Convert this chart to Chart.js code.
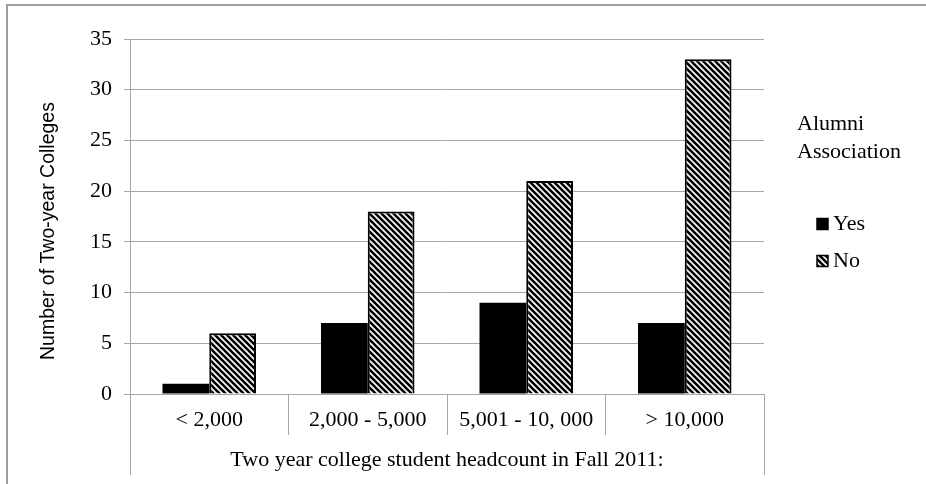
<!DOCTYPE html>
<html>
<head>
<meta charset="utf-8">
<title>Alumni Association by college headcount</title>
<script src="https://cdn.jsdelivr.net/npm/chart.js@4/dist/chart.umd.min.js"></script>
<style>
  html, body { margin: 0; padding: 0; background: #fff; }
  canvas { display: block; }
</style>
</head>
<body>
<canvas id="chart" width="926" height="484"></canvas>
<script>
// ===== DATA =====
const CATEGORIES = ['< 2,000', '2,000 - 5,000', '5,001 - 10, 000', '> 10,000'];
const YES_COUNTS = [1, 7, 9, 7];
const NO_COUNTS = [6, 18, 21, 33];
const SERIES_LABELS = ['Yes', 'No'];
const LEGEND_TITLE = ['Alumni', 'Association'];
const Y_MAX = 35;
const Y_STEP = 5;
const X_TITLE = 'Two year college student headcount in Fall 2011:';
const Y_TITLE = 'Number of Two-year Colleges';

// ===== STYLE =====
const SERIF = "'Liberation Serif', 'Times New Roman', serif";
const SANS = "'Liberation Sans', Arial, sans-serif";
const GRID = '#a6a6a6';
const INK = '#000';

// diagonal "\" hatch used for the No series
function makeHatch() {
  const p = 6;
  const c = document.createElement('canvas');
  c.width = p; c.height = p;
  const g = c.getContext('2d');
  g.fillStyle = '#fff';
  g.fillRect(0, 0, p, p);
  g.strokeStyle = '#000';
  g.lineWidth = 2.6;
  g.beginPath();
  for (let k = -1; k <= 1; k++) {
    g.moveTo(k * p - 1, -1);
    g.lineTo(k * p + p + 1, p + 1);
  }
  g.stroke();
  return g.createPattern(c, 'repeat');
}
const HATCH = makeHatch();

// ===== PLUGINS =====
// outer chart frame, y axis title, long edge separators and the legend block
const decorations = {
  id: 'decorations',
  beforeDraw(chart) {
    const ctx = chart.ctx;
    ctx.save();
    ctx.strokeStyle = '#9c9c9c';
    ctx.lineWidth = 2;
    ctx.beginPath();
    ctx.moveTo(7, chart.height);
    ctx.lineTo(7, 5);
    ctx.lineTo(chart.width, 5);
    ctx.stroke();
    ctx.restore();
  },
  afterDraw(chart) {
    const ctx = chart.ctx;
    const x = chart.scales.x;
    const area = chart.chartArea;
    ctx.save();

    // edges of the category axis run down past the axis title
    ctx.strokeStyle = GRID;
    ctx.lineWidth = 1;
    ctx.beginPath();
    [x.left, x.right].forEach(px => {
      ctx.moveTo(Math.round(px) + 0.5, area.bottom);
      ctx.lineTo(Math.round(px) + 0.5, 475);
    });
    ctx.stroke();

    // y axis title
    ctx.fillStyle = INK;
    ctx.font = '19.5px ' + SANS;
    ctx.textAlign = 'center';
    ctx.textBaseline = 'middle';
    ctx.translate(49, 231);
    ctx.rotate(-Math.PI / 2);
    ctx.fillText(Y_TITLE, 0, 0);
    ctx.setTransform(1, 0, 0, 1, 0, 0);

    // legend
    ctx.font = '22px ' + SERIF;
    ctx.textAlign = 'left';
    ctx.textBaseline = 'middle';
    LEGEND_TITLE.forEach((t, i) => ctx.fillText(t, 797, 124 + i * 28));
    chart.data.datasets.forEach((ds, i) => {
      const cy = 224 + i * 37;
      ctx.fillStyle = ds.backgroundColor;
      ctx.fillRect(817, cy - 5.5, 11, 11);
      ctx.strokeStyle = INK;
      ctx.lineWidth = 1.5;
      ctx.strokeRect(817, cy - 5.5, 11, 11);
      ctx.fillStyle = INK;
      ctx.fillText(ds.label, 833, cy);
    });
    ctx.restore();
  }
};

// ===== CHART =====
new Chart(document.getElementById('chart'), {
  type: 'bar',
  data: {
    labels: CATEGORIES,
    datasets: [
      // solid black: no separate border, so no seam between border and fill
      { label: SERIES_LABELS[0], data: YES_COUNTS, backgroundColor: INK,
        borderColor: INK, borderWidth: 0 },
      { label: SERIES_LABELS[1], data: NO_COUNTS, backgroundColor: HATCH,
        borderColor: INK, borderWidth: 2 }
    ]
  },
  options: {
    responsive: false,
    animation: false,
    devicePixelRatio: 1,
    layout: { padding: { top: 39, right: 162, left: 0, bottom: 0 } },
    datasets: { bar: { categoryPercentage: 0.59, barPercentage: 1 } },
    plugins: { legend: { display: false }, tooltip: { enabled: false } },
    scales: {
      x: {
        grid: { offset: true, drawOnChartArea: false, drawTicks: true, tickLength: 41, color: GRID, lineWidth: 1 },
        border: { color: GRID },
        ticks: { color: INK, font: { family: SERIF, size: 22 }, padding: -28, maxRotation: 0, autoSkip: false },
        title: { display: true, text: X_TITLE, color: INK, font: { family: SERIF, size: 22 }, padding: { top: 0, bottom: 11 } },
        afterFit: s => { s.height = 90; }
      },
      y: {
        min: 0, max: Y_MAX,
        ticks: { stepSize: Y_STEP, padding: 12, color: INK, font: { family: SERIF, size: 22 } },
        grid: { color: GRID, lineWidth: 1, tickLength: 6 },
        border: { color: GRID },
        afterFit: s => { s.width = 130; }
      }
    }
  },
  plugins: [decorations]
});
</script>
</body>
</html>
